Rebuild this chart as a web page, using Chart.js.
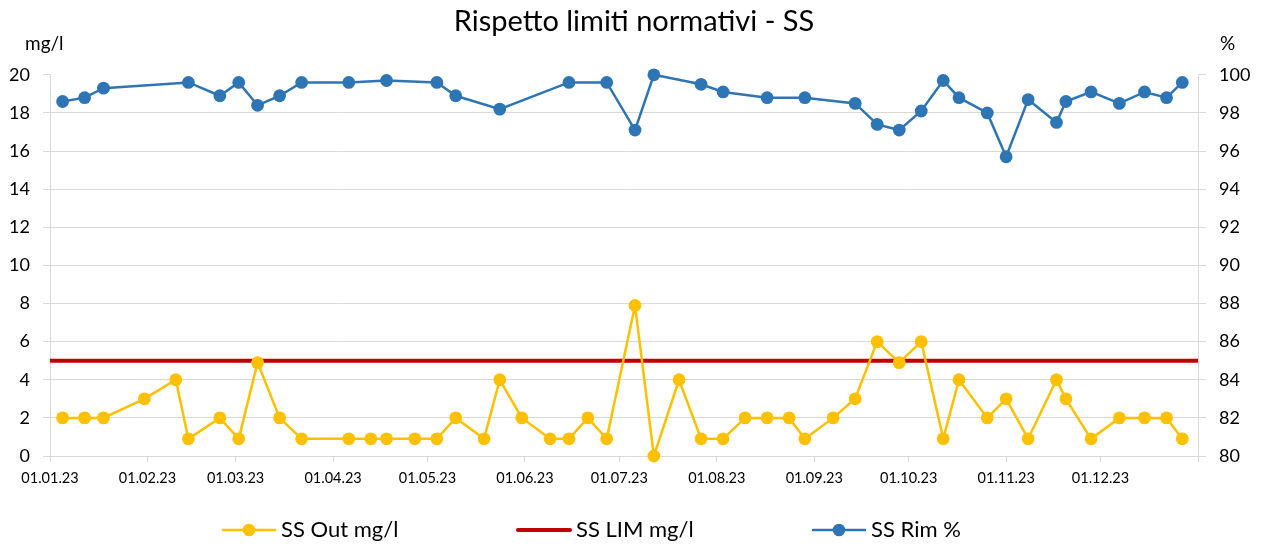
<!DOCTYPE html>
<html>
<head>
<meta charset="utf-8">
<script src="https://cdn.jsdelivr.net/npm/chart.js@4.4.0/dist/chart.umd.min.js"></script>
<style>
  body { margin: 0; background: #fff; }
  canvas { display: block; }
</style>
</head>
<body>
<canvas id="ssChart" width="1268" height="544"></canvas>
<script>
// sampling dates (dd.mm.yy)
const sampleDates = ['05.01.23','12.01.23','18.01.23','31.01.23','10.02.23','14.02.23','24.02.23','02.03.23','08.03.23','15.03.23',
  '22.03.23','06.04.23','13.04.23','18.04.23','27.04.23','04.05.23','10.05.23','19.05.23','24.05.23','31.05.23',
  '09.06.23','15.06.23','21.06.23','27.06.23','06.07.23','12.07.23','20.07.23','27.07.23','03.08.23','10.08.23',
  '17.08.23','24.08.23','29.08.23','07.09.23','14.09.23','21.09.23','28.09.23','05.10.23','12.10.23','17.10.23',
  '26.10.23','01.11.23','08.11.23','17.11.23','20.11.23','28.11.23','07.12.23','15.12.23','22.12.23','27.12.23'];

// SS in uscita (mg/l)
const ssOut = [2, 2, 2, 3, 4, 0.9, 2, 0.9, 4.9, 2,
  0.9, 0.9, 0.9, 0.9, 0.9, 0.9, 2, 0.9, 4, 2,
  0.9, 0.9, 2, 0.9, 7.9, 0, 4, 0.9, 0.9, 2,
  2, 2, 0.9, 2, 3, 6, 4.9, 6, 0.9, 4,
  2, 3, 0.9, 4, 3, 0.9, 2, 2, 2, 0.9];

// rendimento di rimozione (%), null = non misurato
const ssRim = [98.6, 98.8, 99.3, null, null, 99.6, 98.9, 99.6, 98.4, 98.9,
  99.6, 99.6, null, 99.7, null, 99.6, 98.9, null, 98.2, null,
  null, 99.6, null, 99.6, 97.1, 100, null, 99.5, 99.1, null,
  98.8, null, 98.8, null, 98.5, 97.4, 97.1, 98.1, 99.7, 98.8,
  98.0, 95.7, 98.7, 97.5, 98.6, 99.1, 98.5, 99.1, 98.8, 99.6];

// limite normativo
const limitDates = ['01.01.23', '01.01.24'];
const ssLim = [5, 5];

const leftTicks = [0, 2, 4, 6, 8, 10, 12, 14, 16, 18, 20];
const rightTicks = [80, 82, 84, 86, 88, 90, 92, 94, 96, 98, 100];

const BASE = Date.UTC(2023, 0, 1);
function dayOf(s) {
  const [d, m, y] = s.split('.').map(Number);
  return (Date.UTC(2000 + y, m - 1, d) - BASE) / 864e5;
}
function fmtDay(v) {
  const dt = new Date(BASE + v * 864e5);
  const p = n => String(n).padStart(2, '0');
  return p(dt.getUTCDate()) + '.' + p(dt.getUTCMonth() + 1) + '.' + p(dt.getUTCFullYear() % 100);
}

const monthStarts = [];
for (let m = 0; m <= 12; m++) monthStarts.push((Date.UTC(2023, m, 1) - BASE) / 864e5);

const toPoints = (dates, vals) => dates.map((d, i) => ({ x: dayOf(d), y: vals[i] }));

const FONT = 'Lato, "Open Sans", sans-serif';
const GRID = '#d9d9d9';

// unit labels + Excel-like legend (line with marker)
const extras = {
  id: 'extras',
  afterDraw(chart) {
    const ctx = chart.ctx;
    ctx.save();
    ctx.fillStyle = '#000';
    ctx.font = '19px ' + FONT;
    ctx.textBaseline = 'alphabetic';
    ctx.textAlign = 'left';
    ctx.fillText('mg/l', 25, 50);
    ctx.fillText('%', 1220, 50);

    const xs = [223, 518, 813];
    const y = 530;
    chart.data.datasets.forEach((ds, i) => {
      const x0 = xs[i];
      ctx.strokeStyle = ds.borderColor;
      ctx.lineWidth = ds.borderWidth;
      ctx.lineCap = 'round';
      ctx.beginPath();
      ctx.moveTo(x0, y);
      ctx.lineTo(x0 + 52, y);
      ctx.stroke();
      if (ds.pointRadius > 0) {
        ctx.fillStyle = ds.pointBackgroundColor;
        ctx.beginPath();
        ctx.arc(x0 + 26, y, 6.3, 0, Math.PI * 2);
        ctx.fill();
      }
      ctx.fillStyle = '#000';
      ctx.font = '22px ' + FONT;
      ctx.textBaseline = 'middle';
      ctx.fillText(ds.label, x0 + 58, y);
    });
    ctx.restore();
  }
};

new Chart(document.getElementById('ssChart'), {
  type: 'line',
  data: {
    datasets: [{
      label: 'SS Out mg/l',
      data: toPoints(sampleDates, ssOut),
      yAxisID: 'y',
      borderColor: '#ffc000',
      backgroundColor: '#ffc000',
      pointBackgroundColor: '#ffc000',
      pointBorderWidth: 0,
      borderWidth: 2.5,
      pointRadius: 6.4,
      clip: false
    }, {
      label: 'SS LIM mg/l',
      data: toPoints(limitDates, ssLim),
      yAxisID: 'y',
      borderColor: '#c00000',
      backgroundColor: '#c00000',
      borderWidth: 4,
      pointRadius: 0,
      clip: false
    }, {
      label: 'SS Rim %',
      data: toPoints(sampleDates, ssRim),
      yAxisID: 'y1',
      borderColor: '#2e75b6',
      backgroundColor: '#2e75b6',
      pointBackgroundColor: '#2e75b6',
      pointBorderWidth: 0,
      borderWidth: 2.5,
      pointRadius: 6.4,
      spanGaps: true,
      clip: false
    }]
  },
  options: {
    responsive: false,
    animation: false,
    layout: { padding: { left: 0, right: 0, top: 0, bottom: 52 } },
    plugins: {
      legend: { display: false },
      tooltip: { enabled: false },
      title: {
        display: true,
        text: 'Rispetto limiti normativi - SS',
        color: '#000',
        font: { family: FONT, size: 29, weight: 'normal' },
        padding: { top: 4, bottom: 36 }
      }
    },
    scales: {
      x: {
        type: 'linear',
        min: 0,
        max: 365,
        afterBuildTicks: s => { s.ticks = monthStarts.map(v => ({ value: v })); },
        afterFit: s => { s.height = 36; },
        ticks: {
          autoSkip: false,
          maxRotation: 0,
          padding: 8,
          color: '#000',
          font: { family: FONT, size: 14.5 },
          callback: v => (v >= 365 ? '' : fmtDay(v))
        },
        grid: { drawOnChartArea: false, tickLength: 6, color: GRID },
        border: { display: true, color: GRID }
      },
      y: {
        position: 'left',
        min: 0,
        max: 20,
        afterBuildTicks: s => { s.ticks = leftTicks.map(v => ({ value: v })); },
        afterFit: s => { s.width = 50; },
        ticks: { padding: 13, color: '#000', font: { family: FONT, size: 18 } },
        grid: {
          color: c => (c.tick && c.tick.value === 20 ? 'rgba(0,0,0,0)' : GRID),
          tickColor: GRID,
          tickLength: 7
        },
        border: { display: true, color: GRID }
      },
      y1: {
        position: 'right',
        min: 80,
        max: 100,
        afterBuildTicks: s => { s.ticks = rightTicks.map(v => ({ value: v })); },
        afterFit: s => { s.width = 70; },
        ticks: { padding: 13, color: '#000', font: { family: FONT, size: 18 } },
        grid: { drawOnChartArea: false, tickColor: GRID, color: GRID, tickLength: 8 },
        border: { display: true, color: GRID }
      }
    }
  },
  plugins: [extras]
});
</script>
</body>
</html>
